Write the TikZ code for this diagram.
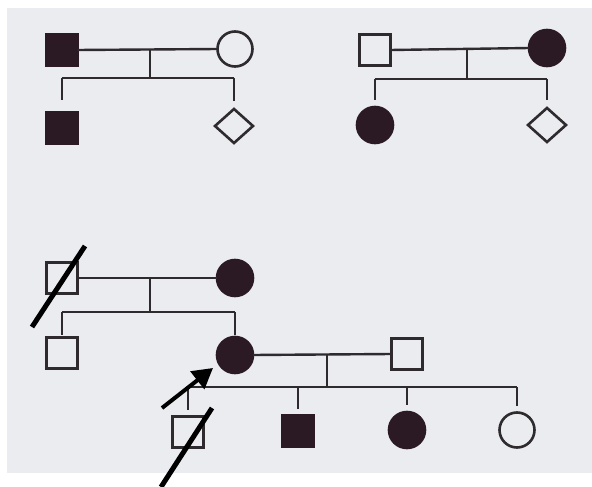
\documentclass[tikz,border=0pt]{standalone}
\usetikzlibrary{shapes.geometric,arrows.meta,calc}
\definecolor{paper}{HTML}{EAECF0}
\definecolor{ink}{HTML}{2B1A24}
\definecolor{pen}{HTML}{2E2A2E}
\begin{document}
\begin{tikzpicture}[x=1pt,y=-1pt,
  every node/.style={inner sep=0pt, outer sep=0pt, line width=2.6pt, draw=pen},
  male/.style={rectangle, minimum size=31pt, fill=paper},
  female/.style={circle, minimum size=35pt, fill=paper},
  affmale/.style={rectangle, minimum size=31pt, fill=ink, draw=ink},
  afffemale/.style={circle, minimum size=36pt, fill=ink, draw=ink},
  unknown/.style={diamond, minimum width=38pt, minimum height=34pt, fill=paper},
  link/.style={draw=pen, line width=2.4pt},
  slashline/.style={draw=black, line width=5pt},
]
\useasboundingbox (0,0) rectangle (592,487);
\fill[white] (0,0) rectangle (592,487);
\fill[paper] (7,8) rectangle (592,473);

% first family
\node[affmale]   (a1) at (62,50) {};
\node[female]    (a2) at (235,49) {};
\node[affmale]   (a3) at (62,128) {};
\node[unknown]   (a4) at (234,126) {};
\draw[link] (a1.east) -- (a2.west);
\coordinate (am) at (150,49);
\coordinate (as) at (150,78);
\draw[link] (am) -- (as);
\draw[link] (a3 |- as) -- (a4 |- as);
\draw[link, shorten >=12pt] (a3 |- as) -- (a3.north);
\draw[link, shorten >=8pt] (a4 |- as) -- (a4.north);

% second family
\node[male]      (b1) at (375,50) {};
\node[afffemale] (b2) at (547,48) {};
\node[afffemale] (b3) at (375,125) {};
\node[unknown]   (b4) at (547,125) {};
\draw[link] (b1.east) -- (b2.west);
\coordinate (bm) at (467,48);
\coordinate (bs) at (467,79);
\draw[link] (bm) -- (bs);
\draw[link] (b3 |- bs) -- (b4 |- bs);
\draw[link, shorten >=7pt] (b3 |- bs) -- (b3.north);
\draw[link, shorten >=8pt] (b4 |- bs) -- (b4.north);

% third family, grandparents
\node[male]      (g1) at (62,278) {};
\node[afffemale] (g2) at (235,278) {};
\draw[link] (g1.east) -- (g2.west);
\coordinate (gm) at (150,278);
\coordinate (gs) at (150,312);
\draw[link] (gm) -- (gs);

\node[male]      (u1) at (62,353) {};
\node[afffemale] (p1) at (235,355) {};
\node[male]      (s1) at (407,354) {};
\draw[link] (u1 |- gs) -- (p1 |- gs);
\draw[link, shorten >=3pt] (u1 |- gs) -- (u1.north);
\draw[link, shorten >=2pt] (p1 |- gs) -- (p1.north);

% proband and spouse
\draw[link] (p1.east) -- (s1.west);
\coordinate (pm) at (327,355);
\coordinate (ps) at (327,387);
\draw[link] (pm) -- (ps);

\node[male]      (c1) at (188,432) {};
\node[affmale]   (c2) at (298,431) {};
\node[afffemale] (c3) at (407,430) {};
\node[female]    (c4) at (517,430) {};
\draw[link] (c1 |- ps) -- (c4 |- ps);
\foreach \c in {c1,c2,c3,c4}
  \draw[link, shorten >=7pt] (\c |- ps) -- (\c.north);

% deceased slashes and proband arrow
\coordinate (d1a) at (32,327);
\coordinate (d1b) at (85,246);
\draw[slashline] (d1a) -- (d1b);
\coordinate (d2a) at (212,408);
\coordinate (d2b) at (161,487);
\draw[slashline] (d2a) -- (d2b);
\coordinate (ar) at (162,408);
\coordinate (at) at (213,368);
\draw[draw=black, line width=4pt, -{Triangle[length=20pt,width=22pt]}] (ar) -- (at);
\end{tikzpicture}
\end{document}
